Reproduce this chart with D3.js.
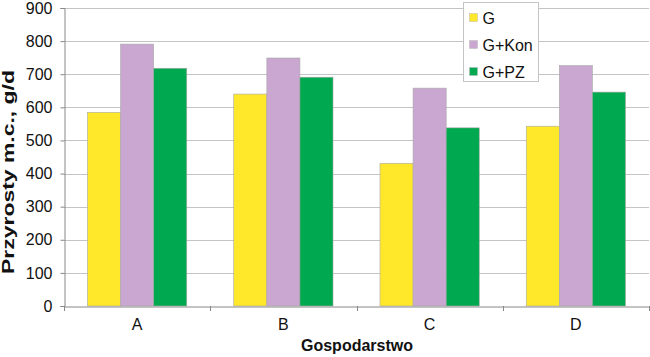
<!DOCTYPE html>
<html><head><meta charset="utf-8">
<script src="https://cdn.jsdelivr.net/npm/d3@7"></script>
<style>body{margin:0;background:#fff}svg{display:block;font-family:"Liberation Sans",Arial,sans-serif}</style>
</head><body><svg id="c" width="650" height="357"></svg>
<script>
const categories = ["A","B","C","D"];
const seriesNames = ["G","G+Kon","G+PZ"];
const seriesColors = ["#FFE82A","#C9A7D0","#00A84F"];
const valuesG = [585, 640, 431, 543];
const valuesKon = [791, 749, 658, 726];
const valuesPZ = [718, 691, 538, 646];
const yTicks = [0,100,200,300,400,500,600,700,800,900];
const series = [valuesG, valuesKon, valuesPZ];

const svg = d3.select("#c");
const m = {l:64, r:1, t:8, b:51};
const W = 650, H = 357;
const x = d3.scaleBand().domain(categories).range([m.l, W-m.r]).paddingInner(0).paddingOuter(0);
const y = d3.scaleLinear().domain([0,900]).range([H-m.b, m.t]);
const inner = d3.scaleBand().domain(seriesNames).range([0, x.bandwidth()]).paddingOuter(0.71).paddingInner(0);

// gridlines
svg.append("g").selectAll("line").data(yTicks.filter(d=>d>0)).join("line")
  .attr("x1", m.l).attr("x2", W-m.r).attr("y1", d=>Math.round(y(d))+0.5).attr("y2", d=>Math.round(y(d))+0.5)
  .attr("stroke","#c4c4c4").attr("stroke-width",1);

// bars
seriesNames.forEach((s,i)=>{
  svg.append("g").selectAll("rect").data(categories).join("rect")
    .attr("x", c=>x(c)+inner(s))
    .attr("y", (c,j)=>y(series[i][j]))
    .attr("width", inner.bandwidth())
    .attr("height", (c,j)=>y(0)-y(series[i][j]))
    .attr("fill", seriesColors[i])
    .attr("stroke","#a8a8a8").attr("stroke-width",0.6);
});

// y axis
const ya = svg.append("g").attr("transform",`translate(${m.l+0.5},0)`)
  .call(d3.axisLeft(y).tickValues(yTicks).tickSize(4).tickPadding(8));
ya.select(".domain").attr("stroke","#888");
ya.selectAll(".tick line").attr("stroke","#888");
ya.selectAll("text").attr("font-size","16px").attr("fill","#111").attr("font-family","Liberation Sans, Arial, sans-serif");

// x axis
const xa = svg.append("g").attr("transform",`translate(0,${Math.round(y(0))+0.5})`)
  .call(d3.axisBottom(x).tickSize(0).tickPadding(12));
xa.select(".domain").attr("stroke","#888");
xa.selectAll("text").attr("font-size","16px").attr("fill","#111").attr("font-family","Liberation Sans, Arial, sans-serif");
const bounds = categories.map(c=>x(c)).concat([x(categories[categories.length-1])+x.bandwidth()]);
svg.append("g").selectAll("line").data(bounds).join("line")
  .attr("x1",d=>Math.min(Math.round(d)+0.5, W-0.5)).attr("x2",d=>Math.min(Math.round(d)+0.5, W-0.5))
  .attr("y1",y(0)).attr("y2",y(0)+5).attr("stroke","#888");

// axis titles
svg.append("text").attr("x", 357).attr("y", 351).attr("text-anchor","middle")
  .attr("font-size","16px").attr("font-weight","bold").attr("fill","#111").text("Gospodarstwo");
svg.append("text").attr("transform",`translate(13.5,172) rotate(-90)`).attr("text-anchor","middle")
  .attr("font-size","16px").attr("font-weight","bold").attr("fill","#111")
  .attr("textLength",204).attr("lengthAdjust","spacingAndGlyphs").text("Przyrosty m.c., g/d");

// legend
const lg = svg.append("g").attr("transform","translate(463.5,2.5)");
lg.append("rect").attr("width",75).attr("height",79).attr("fill","#fff").attr("stroke","#c4c4c4");
seriesNames.forEach((s,i)=>{
  const yy = 15 + i*27;
  lg.append("rect").attr("x",6).attr("y",yy-4).attr("width",8).attr("height",8).attr("fill",seriesColors[i]).attr("stroke","#bbb").attr("stroke-width",0.5);
  lg.append("text").attr("x",19).attr("y",yy+6).attr("font-size","16px").attr("fill","#111").text(s);
});
</script></body></html>
